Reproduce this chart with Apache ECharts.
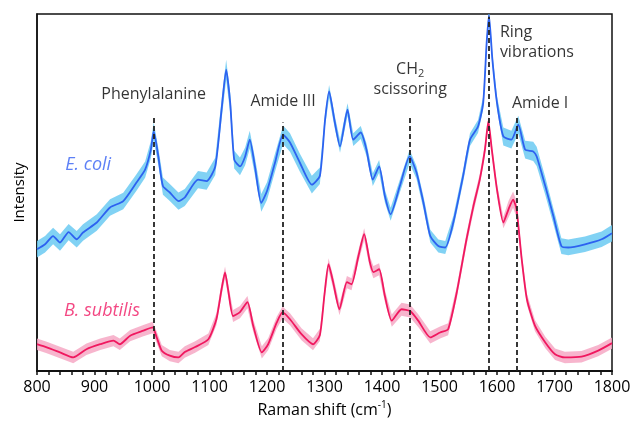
<!DOCTYPE html>
<html><head><meta charset="utf-8">
<script src="https://cdn.jsdelivr.net/npm/echarts@6/dist/echarts.min.js"></script>
<style>html,body{margin:0;padding:0;background:#fff}#c{width:632px;height:423px}</style>
</head><body><div id="c"></div>
<script>
// ---- data (Raman shift in cm^-1, intensity in arbitrary units) ----
const ecoliShift = [800,814,828,840,855,869,880,904,927,950,973,988,998,1003,1011,1019,1031,1046,1057,1080,1095,1110,1121,1129,1136,1143,1153,1162,1170,1179,1190,1200,1214,1228,1240,1257,1278,1292,1301,1308,1318,1327,1340,1350,1363,1373,1384,1395,1405,1415,1431,1448,1460,1472,1484,1498,1510,1524,1541,1553,1567,1576,1582,1586,1592,1600,1611,1625,1637,1649,1663,1669,1684,1698,1712,1724,1753,1782,1800];
const ecoliIntensity = [34.1,35.5,37.8,36.0,38.9,36.9,38.8,41.6,45.8,47.6,52.8,56.4,62.0,67.1,60.1,51.8,50.0,47.6,48.6,53.6,53.2,57.3,73.2,84.4,75.1,59.2,57.3,60.1,64.8,57.3,47.1,50.4,58.4,66.2,64.0,58.4,52.2,54.7,70.4,78.3,69.6,62.9,73.2,64.8,66.8,62.0,53.6,57.3,49.0,43.9,51.8,60.1,55.6,47.2,37.8,35.0,34.6,41.6,54.6,64.8,68.5,75.1,91.9,99.7,87.2,75.1,65.7,64.8,69.0,62.0,61.5,60.1,51.8,43.4,35.0,34.6,35.5,36.9,38.6];
const ecoliSpread = [2.3,2.3,2.3,2.3,2.3,2.3,2.3,2.3,2.3,2.3,2.3,2.3,2.4,2.6,2.4,2.4,2.4,2.4,2.4,2.4,2.4,2.4,2.8,2.8,2.8,2.5,2.5,2.5,2.5,2.5,2.5,2.5,2.5,2.6,2.6,2.5,2.5,2.3,1.8,1.8,1.8,1.8,1.8,1.8,1.8,1.8,1.8,1.8,1.8,1.8,1.8,1.9,1.8,1.8,1.8,1.8,1.8,1.8,1.8,1.8,1.8,1.8,1.8,1.8,1.8,1.8,2.5,2.5,2.5,2.5,2.7,2.7,2.5,2.2,2.2,2.2,2.2,2.2,2.3];

const bsubShift = [800,817,840,863,886,910,933,944,962,985,1001,1008,1017,1031,1046,1057,1075,1098,1112,1121,1127,1133,1141,1153,1166,1176,1191,1202,1217,1227,1240,1260,1280,1292,1300,1307,1315,1326,1339,1347,1359,1369,1379,1385,1395,1405,1417,1434,1449,1463,1484,1501,1515,1530,1547,1559,1570,1579,1585,1591,1600,1611,1620,1628,1634,1643,1652,1666,1684,1701,1718,1747,1776,1800];
const bsubIntensity = [7.5,6.6,5.2,3.8,6.1,7.5,8.5,7.5,9.9,11.3,12.2,9.5,5.7,4.3,3.8,5.3,6.7,8.9,14.5,22.9,27.6,22.1,15.4,16.5,19.3,12.7,5.2,7.5,13.6,16.4,14.5,10.3,7.5,10.1,21.5,29.9,24.9,17.3,24.9,24.3,32.2,38.3,30.4,27.7,28.5,21.0,14.1,17.3,16.8,14.1,9.4,10.8,11.7,22.0,36.9,46.2,53.6,62.0,69.9,62.0,50.8,41.6,45.3,48.0,45.3,31.3,20.1,12.7,8.0,4.7,3.8,4.0,5.7,7.8];
const bsubSpread = [1.6,1.6,1.6,1.6,1.6,1.6,1.6,1.6,1.6,1.6,1.6,1.6,1.6,1.6,1.6,1.6,1.6,1.6,1.7,1.7,1.7,1.7,1.7,1.7,1.7,1.7,1.7,1.7,1.7,1.7,1.7,1.7,1.7,1.7,1.7,1.7,1.7,1.7,1.7,1.7,1.7,1.7,1.7,1.7,1.7,1.7,1.7,1.8,1.8,1.8,1.7,1.7,1.7,1.7,1.7,1.7,1.6,1.6,1.6,1.6,1.6,1.6,2.3,2.3,2.3,1.6,1.6,1.6,1.6,1.6,1.6,1.6,1.6,1.6];

// assignment markers
const peakNames = ['Phenylalanine', 'Amide III', 'CH{sub|2}\nscissoring', 'Ring\nvibrations', 'Amide I'];
const peakShift = [1003, 1228, 1449, 1586, 1634];
const peakTop = [71.2, 69.6, 71.2, 99.2, 71.2];
const peakLabelShift = [1003, 1228, 1449, 1605, 1675];
const peakLabelLevel = [77.4, 75.4, 81.6, 91.9, 74.9];

const seriesNames = ['E. coli', 'B. subtilis'];
const seriesLabelShift = [889, 913];
const seriesLabelLevel = [57.8, 16.8];

// ---- styling ----
const FONT = 'Open Sans';
const TXT = '#000';
const blueLine = '#2d62f0', blueBand = 'rgba(112,204,242,0.88)', blueText = '#3560f4';
const pinkLine = '#f0185f', pinkBand = 'rgba(246,168,196,0.85)', pinkText = '#f01a64';

function pairs(xs, ys) { return xs.map((x, i) => [x, ys[i]]); }

function band(xs, ys, sp, color) {
  return {
    type: 'custom', silent: true, z: 1, clip: true,
    data: [[xs[0], ys[0]]],
    renderItem: function (params, api) {
      const pts = [];
      for (let i = 0; i < xs.length; i++) pts.push(api.coord([xs[i], ys[i] + sp[i]]));
      for (let i = xs.length - 1; i >= 0; i--) pts.push(api.coord([xs[i], ys[i] - sp[i]]));
      return { type: 'polygon', shape: { points: pts }, style: { fill: color } };
    }
  };
}

const annData = [];
peakNames.forEach((t, i) => {
  annData.push({
    value: [peakLabelShift[i], peakLabelLevel[i]], name: t,
    label: { align: i === 3 ? 'left' : 'center', color: TXT }
  });
});
seriesNames.forEach((t, i) => {
  annData.push({
    value: [seriesLabelShift[i], seriesLabelLevel[i]], name: t,
    label: { color: i === 0 ? blueText : pinkText, fontStyle: 'italic', fontSize: 18 }
  });
});

const chart = echarts.init(document.getElementById('c'), null, { renderer: 'canvas' });
chart.setOption({
  animation: false,
  backgroundColor: '#fff',
  grid: { left: 37, right: 20, top: 14, bottom: 52, show: true, borderColor: '#111', borderWidth: 1.5, outerBoundsMode: 'none' },
  xAxis: {
    type: 'value', min: 800, max: 1800, interval: 100,
    name: 'Raman shift (cm{sup|-1})', nameLocation: 'middle', nameGap: 29,
    nameTextStyle: { fontFamily: FONT, fontSize: 16, color: TXT, lineHeight: 20,
      rich: { sup: { fontFamily: FONT, fontSize: 10, verticalAlign: 'top', lineHeight: 20, color: TXT } } },
    axisLine: { show: true, lineStyle: { color: '#111', width: 2 } },
    axisTick: { show: true, length: 4, lineStyle: { color: '#111', width: 1.5 } },
    minorTick: { show: true, splitNumber: 5, length: 4, lineStyle: { color: '#111', width: 1.5 } },
    axisLabel: { fontFamily: FONT, fontSize: 16, color: TXT, margin: 8, formatter: function (v) { return String(v); } },
    splitLine: { show: false }
  },
  yAxis: {
    type: 'value', min: 0, max: 100,
    name: 'Intensity', nameLocation: 'middle', nameGap: 10,
    nameTextStyle: { fontFamily: FONT, fontSize: 15, color: TXT },
    axisLine: { show: true, lineStyle: { color: '#111', width: 1.5 } },
    axisTick: { show: false }, axisLabel: { show: false }, splitLine: { show: false }
  },
  series: [
    band(ecoliShift, ecoliIntensity, ecoliSpread, blueBand),
    band(bsubShift, bsubIntensity, bsubSpread, pinkBand),
    { type: 'line', data: pairs(ecoliShift, ecoliIntensity), showSymbol: false, smooth: 0.2, z: 3, silent: true,
      lineStyle: { color: blueLine, width: 1.8 } },
    { type: 'line', data: pairs(bsubShift, bsubIntensity), showSymbol: false, smooth: 0.2, z: 3, silent: true,
      lineStyle: { color: pinkLine, width: 1.8 } },
    { type: 'scatter', z: 6, silent: true, symbolSize: 0, data: annData,
      label: { show: true, position: 'inside', formatter: '{b}', fontFamily: FONT, fontSize: 16, lineHeight: 20,
        rich: { sub: { fontFamily: FONT, fontSize: 11, verticalAlign: 'bottom', lineHeight: 14, color: TXT } } },
      markLine: { silent: true, symbol: 'none', label: { show: false },
        lineStyle: { type: [5, 3], color: '#222', width: 1.8 },
        data: peakShift.map((x, i) => [{ coord: [x, 0] }, { coord: [x, peakTop[i]] }]) }
    }
  ]
});
</script></body></html>
